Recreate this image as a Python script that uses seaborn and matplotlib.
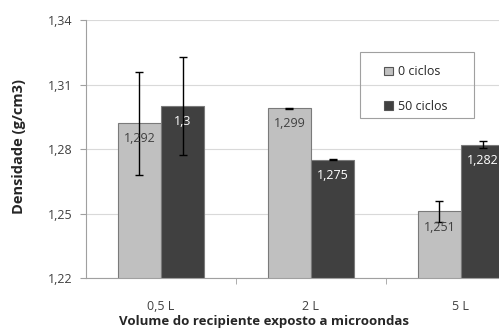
import seaborn as sns
import pandas as pd
import matplotlib.pyplot as plt
import matplotlib.ticker as mticker
from matplotlib.patches import Rectangle

volumes = ['0,5 L', '2 L', '5 L']
ciclos = ['0 ciclos', '50 ciclos']
dens_0 = [1.292, 1.299, 1.251]
dens_50 = [1.300, 1.275, 1.282]
err_0 = [0.024, 0.0003, 0.005]
err_50 = [0.023, 0.0003, 0.0015]

df = pd.DataFrame({
    'volume': volumes * 2,
    'ciclos': [ciclos[0]] * 3 + [ciclos[1]] * 3,
    'dens': dens_0 + dens_50,
})

sns.set_style('white')
plt.rcParams['font.family'] = ['Open Sans', 'DejaVu Sans']

fig = plt.figure(figsize=(4.99, 3.34), dpi=100)
fig.patch.set_facecolor('white')
# axes runs past the right edge, like the cropped original
ax = fig.add_axes([86 / 499, 56 / 334, 450 / 499, 258 / 334])

sns.barplot(data=df, x='volume', y='dens', hue='ciclos',
            palette=['#c0c0c0', '#404040'], width=0.575, gap=0,
            edgecolor='#7a7a7a', linewidth=0.8, errorbar=None, ax=ax)

errs = [err_0, err_50]
vals = [dens_0, dens_50]
txt_colors = ['#404040', 'white']
for cont, e, v, tc in zip(ax.containers, errs, vals, txt_colors):
    xs = [b.get_x() + b.get_width() / 2 for b in cont]
    ax.errorbar(xs, v, yerr=e, fmt='none', ecolor='black', elinewidth=1,
                capsize=3, capthick=1, zorder=5)
    labels = [('%g' % x).replace('.', ',') for x in v]
    for t in ax.bar_label(cont, labels=labels, padding=-16, fontsize=9, color=tc):
        t.set_zorder(6)

ax.set_ylim(1.22, 1.34)
ax.set_yticks([1.22, 1.25, 1.28, 1.31, 1.34])
ax.yaxis.set_major_formatter(mticker.FuncFormatter(lambda y, p: ('%.2f' % y).replace('.', ',')))
ax.grid(axis='y', color='#d9d9d9', linewidth=0.8)
ax.set_axisbelow(True)
ax.set_xlim(-0.5, 2.5)

for s in ['top', 'right']:
    ax.spines[s].set_visible(False)
for s in ['left', 'bottom']:
    ax.spines[s].set_color('#a0a0a0')
    ax.spines[s].set_linewidth(0.8)

ax.tick_params(axis='y', left=True, length=4, color='#a0a0a0', labelsize=9,
               labelcolor='#404040', pad=6)
ax.tick_params(axis='x', bottom=False, labelsize=9, labelcolor='#404040', pad=12)
ax.set_xticks([0.5, 1.5], minor=True)
ax.tick_params(axis='x', which='minor', bottom=True, length=4, color='#a0a0a0')

ax.set_xlabel('Volume do recipiente exposto a microondas', fontsize=9.5,
              fontweight='bold')
ax.set_ylabel('Densidade (g/cm3)', fontsize=10.5, fontweight='bold')
ax.xaxis.set_label_coords((264 - 86) / 450, -0.145)
ax.yaxis.set_label_coords(-(86 - 26) / 450, 0.51)

leg = ax.legend(loc='upper left', bbox_to_anchor=(378 / 499, 1 - 59 / 334),
                bbox_transform=fig.transFigure, fontsize=9, frameon=False,
                handlelength=0.7, handleheight=0.7, handletextpad=0.4,
                labelspacing=1.75, borderpad=0, title=None)
for h in leg.legend_handles:
    h.set_edgecolor('#555555')
fig.patches.append(Rectangle((360 / 499, 1 - 118 / 334), 114 / 499, 66 / 334,
                             transform=fig.transFigure, fill=False,
                             edgecolor='#a0a0a0', linewidth=0.8))

fig.savefig('out.png', dpi=100)
